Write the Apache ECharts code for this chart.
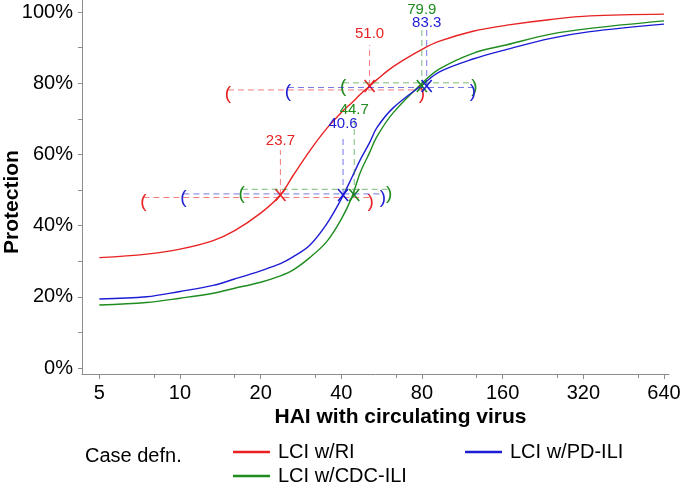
<!DOCTYPE html>
<html>
<head>
<meta charset="utf-8">
<script src="https://cdn.jsdelivr.net/npm/echarts@6/dist/echarts.min.js"></script>
<style>html,body{margin:0;padding:0;background:#fff;}#c{width:680px;height:487px;}</style>
</head>
<body>
<div id="c"></div>
<script>
// ---- data ----
const X_TICKS = [5, 10, 20, 40, 80, 160, 320, 640];
const X_MINOR = [8, 16, 32, 64, 128, 256, 512];
const Y_TICKS = [0, 20, 40, 60, 80, 100];
const Y_MINOR = [10, 30, 50, 70, 90];

const SERIES_NAMES = ['LCI w/RI', 'LCI w/CDC-ILI', 'LCI w/PD-ILI'];
const CURVE_X = [5, 7.5, 10, 13.3, 16, 20, 23.7, 26.4, 30.5, 35.3, 40, 43.8, 47, 51, 54.3, 62.3, 80, 93, 124, 166, 242, 339, 640];
const RED   = [31.0, 32.0, 33.4, 35.8, 38.6, 43.5, 48.6, 54.0, 61.0, 67.3, 71.8, 74.5, 76.8, 79.2, 81.0, 84.6, 89.5, 91.8, 94.6, 96.3, 97.9, 98.9, 99.4];
const GREEN = [17.7, 18.4, 19.6, 21.0, 22.4, 24.1, 25.9, 27.5, 31.0, 35.5, 41.8, 48.0, 54.8, 60.5, 65.0, 71.6, 80.0, 84.0, 88.4, 90.8, 93.8, 95.4, 97.5];
const BLUE  = [19.4, 20.0, 21.5, 23.2, 25.0, 27.3, 29.3, 31.2, 34.5, 40.5, 47.5, 53.5, 58.4, 63.3, 67.5, 73.0, 79.5, 83.2, 86.8, 89.5, 92.6, 94.5, 96.6];

// estimates (order: RI, CDC-ILI, PD-ILI)
const ED50    = [23.7, 44.7, 40.6];
const ED50_LO = [7.3, 17.0, 10.3];
const ED50_HI = [51.5, 60.3, 57.2];
const ED80    = [51.0, 79.9, 83.3];
const ED80_LO = [15.1, 40.6, 25.3];
const ED80_HI = [80.0, 125.6, 124.0];
const MARKER_LEVELS = [48.6, 79.2];

// annotation layout (protection units)
const CI50_Y = [47.9, 50.2, 48.9];
const CI80_Y = [78.1, 80.1, 78.8];
const TOP50 = [61.2, 70.2, 65.4];
const TOP80 = [90.7, 95.5, 95.5];
const LAB50 = [63.8, 72.5, 68.5];
const LAB80 = [93.8, 100.6, 97.0];

const COLORS = ['#e82222', '#1f8c1f', '#1c1cd4'];
const CURVES = [RED, GREEN, BLUE];

const u = x => Math.log2(x / 5);
const FONT = 'Liberation Sans, Arial, sans-serif';

const chart = echarts.init(document.getElementById('c'), null, {renderer: 'canvas'});

const lineSeries = CURVES.map((vals, i) => ({
  name: SERIES_NAMES[i],
  type: 'line',
  xAxisIndex: 0, yAxisIndex: 0,
  data: CURVE_X.map((x, k) => [u(x), vals[k]]),
  smooth: 0.35,
  showSymbol: false,
  symbol: 'none',
  lineStyle: {color: COLORS[i], width: 1.4},
  itemStyle: {color: COLORS[i]},
  z: 3,
  silent: true
}));

function annoSeries(i) {
  const rows = [
    [u(ED50[i]), u(ED50_LO[i]), u(ED50_HI[i]), MARKER_LEVELS[0], CI50_Y[i], TOP50[i], LAB50[i], ED50[i].toFixed(1)],
    [u(ED80[i]), u(ED80_LO[i]), u(ED80_HI[i]), MARKER_LEVELS[1], CI80_Y[i], TOP80[i], LAB80[i], ED80[i].toFixed(1)]
  ];
  const col = COLORS[i];
  return {
    type: 'custom',
    name: SERIES_NAMES[i] + ' est',
    xAxisIndex: 0, yAxisIndex: 0,
    data: rows,
    silent: true,
    z: 4,
    renderItem: function (params, api) {
      const ex = api.value(0), lo = api.value(1), hi = api.value(2);
      const my = api.value(3), cy = api.value(4), ty = api.value(5), ly = api.value(6);
      const lbl = rows[params.dataIndex][7];
      const m = api.coord([ex, my]);
      const pLo = api.coord([lo, cy]);
      const pHi = api.coord([hi, cy]);
      const pTop = api.coord([ex, ty]);
      const pLab = api.coord([ex, ly]);
      const dash = {stroke: col, lineWidth: 1, lineDash: [6, 4], opacity: 0.6};
      return {
        type: 'group',
        children: [
          {type: 'line', shape: {x1: pLo[0], y1: pLo[1], x2: pHi[0], y2: pHi[1]}, style: dash},
          {type: 'line', shape: {x1: m[0], y1: m[1], x2: pTop[0], y2: pTop[1]}, style: dash},
          {type: 'line', shape: {x1: m[0] - 5, y1: m[1] - 6, x2: m[0] + 5, y2: m[1] + 6}, style: {stroke: col, lineWidth: 1.6}},
          {type: 'line', shape: {x1: m[0] - 5, y1: m[1] + 6, x2: m[0] + 5, y2: m[1] - 6}, style: {stroke: col, lineWidth: 1.6}},
          {type: 'text', x: pLo[0], y: pLo[1] + 4, style: {text: '(', fill: col, font: '19px ' + FONT, align: 'center', verticalAlign: 'middle'}},
          {type: 'text', x: pHi[0], y: pHi[1] + 4, style: {text: ')', fill: col, font: '19px ' + FONT, align: 'center', verticalAlign: 'middle'}},
          {type: 'text', x: pLab[0], y: pLab[1], style: {text: lbl, fill: col, font: '15px ' + FONT, align: 'center', verticalAlign: 'middle'}}
        ]
      };
    }
  };
}

const AX = '#8c8c8c';
const option = {
  animation: false,
  backgroundColor: '#fff',
  textStyle: {fontFamily: FONT},
  grid: {left: 82, right: 11, top: 0, bottom: 113, containLabel: false, outerBoundsMode: 'none'},
  xAxis: [
    {
      type: 'value', min: u(5) - 0.2145, max: 7.062,
      axisLine: {show: true, onZero: false, lineStyle: {color: AX, width: 1}},
      axisTick: {show: true, length: 5, lineStyle: {color: AX}, customValues: X_TICKS.map(u)},
      axisLabel: {show: true, customValues: X_TICKS.map(u), margin: 9, color: '#000', fontSize: 20, fontFamily: FONT,
        formatter: v => String(Math.round(5 * Math.pow(2, v)))},
      splitLine: {show: false},
      name: 'HAI with circulating virus',
      nameLocation: 'middle', nameGap: 33, nameMoveOverlap: false,
      nameTextStyle: {color: '#000', fontSize: 21, fontWeight: 'bold', fontFamily: FONT, padding: [0, 0, 0, 50]}
    },
    {
      type: 'value', min: u(5) - 0.2145, max: 7.062, position: 'bottom',
      axisLine: {show: false, onZero: false},
      axisTick: {show: true, length: 4, lineStyle: {color: AX}, customValues: X_MINOR.map(u)},
      axisLabel: {show: false},
      splitLine: {show: false}
    }
  ],
  yAxis: [
    {
      type: 'value', min: -1.685, max: 103.37,
      axisLine: {show: true, onZero: false, lineStyle: {color: AX, width: 1}},
      axisTick: {show: true, length: 4, lineStyle: {color: AX}, customValues: Y_TICKS},
      axisLabel: {show: true, customValues: Y_TICKS, margin: 9, color: '#000', fontSize: 20, fontFamily: FONT,
        formatter: v => v + '%'},
      splitLine: {show: false},
      name: 'Protection',
      nameLocation: 'middle', nameGap: 59, nameMoveOverlap: false,
      nameTextStyle: {color: '#000', fontSize: 21, fontWeight: 'bold', fontFamily: FONT, padding: [0, 30, 0, 0]}
    },
    {
      type: 'value', min: -1.685, max: 103.37, position: 'left',
      axisLine: {show: false, onZero: false},
      axisTick: {show: true, length: 4, lineStyle: {color: AX}, customValues: Y_MINOR},
      axisLabel: {show: false},
      splitLine: {show: false}
    }
  ],
  legend: [
    {data: [SERIES_NAMES[0]], left: 233, top: 436},
    {data: [SERIES_NAMES[2]], left: 465, top: 436},
    {data: [SERIES_NAMES[1]], left: 233, top: 460}
  ].map(l => Object.assign(l, {
    orient: 'horizontal', icon: 'rect', itemWidth: 37, itemHeight: 2.5,
    selectedMode: false, padding: 0,
    textStyle: {color: '#000', fontSize: 20, fontFamily: FONT, lineHeight: 20, padding: [12, 0, 0, 3]}
  })),
  graphic: [
    {type: 'text', left: 85, top: 446, style: {text: 'Case defn.', fill: '#000', font: '20px ' + FONT}}
  ],
  series: [...lineSeries, annoSeries(0), annoSeries(1), annoSeries(2)]
};
chart.setOption(option);
</script>
</body>
</html>
